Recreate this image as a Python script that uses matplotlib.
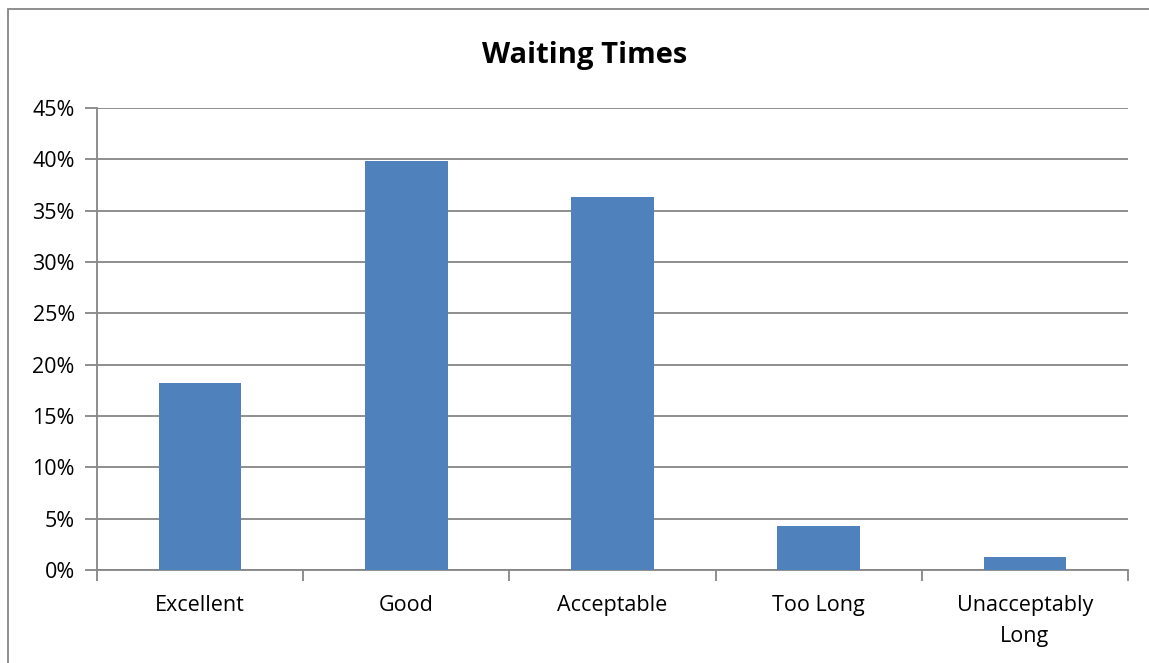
import matplotlib
matplotlib.use('Agg')
import matplotlib.pyplot as plt
from matplotlib.patches import Rectangle
from matplotlib.ticker import FuncFormatter, FixedLocator, NullFormatter
import numpy as np

plt.rcParams['font.family'] = ['Open Sans', 'DejaVu Sans']

categories = ['Excellent', 'Good', 'Acceptable', 'Too Long', 'Unacceptably\nLong']
values = [18.2, 39.8, 36.3, 4.3, 1.3]
y_ticks = [0, 5, 10, 15, 20, 25, 30, 35, 40, 45]

grey = '#868686'

fig = plt.figure(figsize=(11.49, 6.63), dpi=100)
ax = fig.add_axes([97/1149, 93/663, 1031/1149, 462/663])

x = np.arange(len(categories))
ax.bar(x, values, width=0.4, color='#4F81BD', zorder=3)

ax.set_xlim(-0.5, len(categories) - 0.5)
ax.set_ylim(0, 45)
ax.set_yticks(y_ticks)
ax.yaxis.set_major_formatter(FuncFormatter(lambda v, p: '%d%%' % v))
ax.grid(axis='y', color=grey, linewidth=1.3, zorder=0)

# category labels centred, tick marks at boundaries
ax.xaxis.set_major_locator(FixedLocator(np.arange(-0.5, len(categories), 1.0)))
ax.xaxis.set_major_formatter(NullFormatter())
ax.xaxis.set_minor_locator(FixedLocator(x))
ax.set_xticklabels(categories, minor=True, linespacing=1.65)
ax.tick_params(axis='x', which='minor', length=0, pad=18, labelsize=15.5)
ax.tick_params(axis='x', which='major', length=8, width=1.3, color=grey)
ax.tick_params(axis='y', length=9, width=1.3, color=grey, labelsize=15.5, pad=7)

for s in ['top', 'right']:
    ax.spines[s].set_visible(False)
for s in ['left', 'bottom']:
    ax.spines[s].set_color(grey)
    ax.spines[s].set_linewidth(1.3)

fig.text(0.509, 1 - 56/663, 'Waiting Times', ha='center', va='center',
         fontsize=21, fontweight='bold')

# chart-area border, only left and top edges fall inside the image
fig.patches.append(Rectangle((8/1149, -0.05), 1.0, 1 - 9/663 + 0.05,
                             transform=fig.transFigure, fill=False,
                             edgecolor=grey, linewidth=1.3))

fig.savefig('out.png', dpi=100)
